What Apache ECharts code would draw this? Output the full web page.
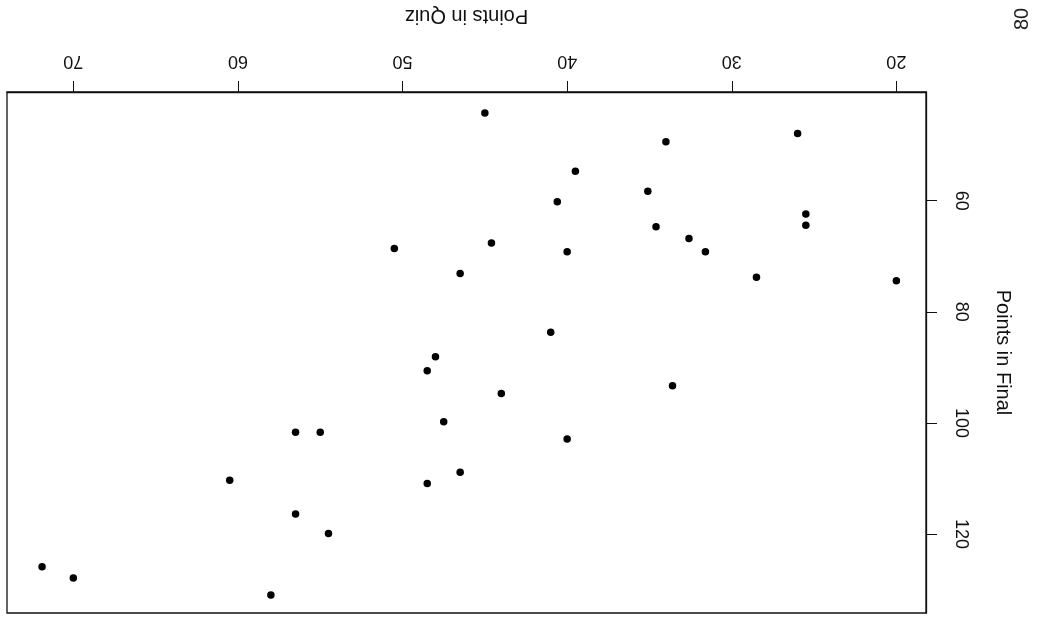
<!DOCTYPE html>
<html>
<head>
<meta charset="utf-8">
<script src="https://cdn.jsdelivr.net/npm/echarts@6/dist/echarts.min.js"></script>
<style>
html,body{margin:0;padding:0;background:#fff;}
#chart{width:1041px;height:625px;}
</style>
</head>
<body>
<div id="chart"></div>
<script>
// Points in Quiz (horizontal, inverted) and Points in Final (vertical, downward)
var quiz  = [45.0, 26.0, 34.0, 39.5, 35.1, 40.6, 25.5, 25.5, 34.6, 32.6, 44.6, 50.5, 40.0, 31.6, 46.5, 28.5, 20.0, 41.0, 48.0, 48.5, 33.6, 44.0, 47.5, 56.5, 55.0, 40.0, 46.5, 60.5, 48.5, 56.5, 54.5, 71.9, 70.0, 58.0];
var final = [44.2, 47.9, 49.4, 54.7, 58.3, 60.2, 62.4, 64.4, 64.7, 66.8, 67.6, 68.6, 69.2, 69.2, 73.1, 73.8, 74.4, 83.7, 88.1, 90.6, 93.3, 94.7, 99.8, 101.7, 101.7, 102.9, 108.9, 110.3, 110.9, 116.4, 119.9, 125.9, 127.9, 131.0];
var quizTicks = [20, 30, 40, 50, 60, 70];
var finalTicks = [60, 80, 100, 120];

var pts = quiz.map(function (q, i) { return [q, final[i]]; });
var font = 'Liberation Sans, Arial, Helvetica, sans-serif';

var chart = echarts.init(document.getElementById('chart'), null, {renderer: 'canvas'});
chart.setOption({
  animation: false,
  backgroundColor: '#fff',
  grid: {left: 7, right: 115, top: 92, bottom: 12, show: true, borderColor: '#111', borderWidth: 1.3, containLabel: false},
  xAxis: {
    type: 'value', position: 'top', inverse: true, min: 18.2, max: 74.03,
    name: 'Points in Quiz', nameLocation: 'middle', nameGap: 66, nameRotate: 180,
    nameTextStyle: {fontFamily: font, fontSize: 20, color: '#111'},
    axisLine: {show: true, lineStyle: {color: '#111', width: 1.3}},
    axisTick: {show: true, inside: false, length: 11, customValues: quizTicks, lineStyle: {color: '#111', width: 1}},
    axisLabel: {show: true, rotate: 180, margin: 22, customValues: quizTicks, fontFamily: font, fontSize: 18, color: '#111'},
    splitLine: {show: false}
  },
  yAxis: {
    type: 'value', position: 'right', inverse: true, min: 40.43, max: 134.22,
    name: 'Points in Final', nameLocation: 'middle', nameGap: 67, nameRotate: -90,
    nameTextStyle: {fontFamily: font, fontSize: 20, color: '#111'},
    axisLine: {show: true, lineStyle: {color: '#111', width: 1.3}},
    axisTick: {show: true, inside: false, length: 11, customValues: finalTicks, lineStyle: {color: '#111', width: 1}},
    axisLabel: {show: true, rotate: -90, margin: 26, customValues: finalTicks, fontFamily: font, fontSize: 18, color: '#111'},
    splitLine: {show: false}
  },
  graphic: [{
    type: 'text', x: 1022, y: 19, rotation: Math.PI / 2,
    style: {text: '80', fontFamily: font, fontSize: 20, fill: '#222', align: 'center', verticalAlign: 'middle'}
  }],
  series: [{
    type: 'scatter', data: pts, symbol: 'circle', symbolSize: 7.5,
    itemStyle: {color: '#000', opacity: 1}
  }]
});
</script>
</body>
</html>
